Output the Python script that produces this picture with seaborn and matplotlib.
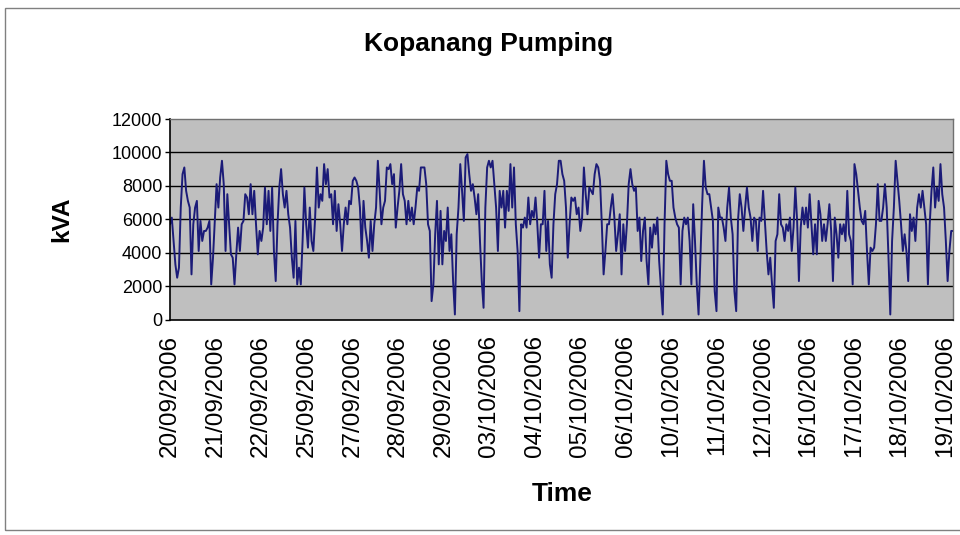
import numpy as np
import pandas as pd
import matplotlib
matplotlib.use("Agg")
import matplotlib.pyplot as plt
import seaborn as sns
from matplotlib.patches import Rectangle

# Apparent power readings (kVA), in time order
kva = [
    5700, 6100, 4700, 3300, 2500, 3100, 6700, 8700, 9100, 7700, 7100, 6700, 2700, 5700, 6700, 7100,
    4100, 5900, 4700, 5300, 5300, 5500, 5900, 2100, 3700, 5900, 8100, 6700, 8500, 9500, 8100, 4100,
    7500, 5700, 3900, 3700, 2100, 3900, 5500, 4100, 5700, 5900, 7500, 7300, 6300, 8100, 6300, 7700,
    5700, 3900, 5300, 4700, 5500, 7900, 5700, 7700, 5300, 7900, 4100, 2300, 5700, 7900, 9000, 7500,
    6700,
    7700, 6300, 5500, 3700, 2500, 5900, 2100, 3100, 2100, 4700, 7900, 5700, 4300, 6700, 4700, 4100,
    6100, 9100, 6700, 7500, 7100, 9300, 8100, 9000, 7300, 7500, 5700, 7700, 5300, 6900, 5700, 4100,
    5700, 6700, 5700, 7100, 6900, 8300, 8500, 8300, 7900, 6700, 4100, 7100, 5500, 4700, 3700, 5900,
    4100, 5700, 6700, 9500, 7700, 5700, 6700, 7100, 9100, 9000, 9300, 8100, 8700, 5500, 6700, 7700,
    9300, 7500, 7100, 5700, 7100, 5900,
    6700, 5700, 6700, 7900, 7700, 9100, 9100, 9100, 8100, 5700, 5300, 1100, 2100, 5100, 7100, 3300,
    6500, 3300, 5300, 4700, 6700, 4100, 5100, 2300, 300, 5100, 6700, 9300, 7700, 5900, 9700, 9900,
    8700, 7700, 8100, 7300, 6300, 7500, 4700, 2300, 700, 6700, 9100, 9500, 9100, 9500, 8100, 6700,
    4100, 7700, 6700, 7700, 5500, 7700, 6500, 9300, 6700, 9100, 5700, 4100, 500, 5700, 5500, 6100,
    5500, 7300, 5700, 6500, 6100,
    7300, 5700, 3700, 5700, 5700, 7700, 4100, 5900, 3300, 2500, 5700, 7500, 8100, 9500, 9500, 8700,
    8300, 6700, 3700, 5700, 7300, 7100, 7300, 6300, 6700, 5300, 6100, 9100, 7500, 6300, 7900, 7700,
    7500, 8700, 9300, 9100, 8300, 5700, 2700, 4100, 5700, 5700, 6700, 7500, 6100, 4100, 5100, 6300,
    2700, 5700, 4100, 5700, 8100, 9000, 8100, 7700, 7900, 5300, 6100, 3500, 5300, 6100, 3500, 2100,
    5500, 4300, 5700, 5100, 6100, 3500, 1900, 300, 5700, 9500, 8700, 8300,
    8300, 6700, 6100, 5700, 5500, 2100, 5300, 6100, 5700, 6100, 4700, 2100, 6900, 4700, 2100, 300,
    3700, 6900, 9500, 7900, 7500, 7500, 6700, 5900, 1700, 500, 6700, 6100, 6100, 5500, 4700, 6700,
    7900, 6100, 5100, 1700, 500, 5900, 7500, 6700, 5300, 6700, 7900, 6700, 6100, 4700, 6100, 5900,
    4100, 6100, 5900, 7700, 5900, 4100, 2700, 3700, 2100, 700, 4700, 5100, 7500, 5700, 5500, 4700,
    5700, 5300, 6100, 4100, 5500, 7900, 5900, 2300, 5500, 6700, 5700, 6700, 5500,
    7500, 5700, 3900, 5700, 3900, 7100, 6300, 4700, 5700, 4700, 5700, 6900, 5300, 2300, 6100, 5100,
    3700, 5700, 5100, 5700, 4700, 7700, 5100, 4700, 2100, 9300, 8700, 7700, 6700, 5900, 5700, 6500,
    4100, 2100, 4300, 4100, 4300, 5700, 8100, 5900, 5900, 6700, 8100, 6700, 3700, 300, 4700, 6700,
    9500, 8300, 7100, 5700, 4100, 5100, 4100, 2300, 6300, 5300, 6100, 4700, 6700, 7500, 6700, 7700,
    6700, 5700, 2100, 5700, 7700, 9100, 6700, 7900, 7100, 9300, 7500, 6700, 4700, 2300, 4100, 5300,
    5300,
]

# Category axis labels (one every label_step readings)
date_labels = [
    "20/09/2006", "21/09/2006", "22/09/2006", "25/09/2006", "27/09/2006", "28/09/2006",
    "29/09/2006", "03/10/2006", "04/10/2006", "05/10/2006", "06/10/2006", "10/10/2006",
    "11/10/2006", "12/10/2006", "16/10/2006", "17/10/2006", "18/10/2006", "19/10/2006",
]
y_ticks = [0, 2000, 4000, 6000, 8000, 10000, 12000]

df = pd.DataFrame({"idx": np.arange(len(kva)), "kVA": kva})

sns.set_theme(style="white")
plt.rcParams["font.family"] = ["Liberation Sans", "DejaVu Sans"]
plt.rcParams["text.color"] = "black"
plt.rcParams["xtick.color"] = "black"
plt.rcParams["ytick.color"] = "black"

W, H = 960, 535
fig = plt.figure(figsize=(W / 100, H / 100), dpi=100)
fig.patch.set_facecolor("white")

# chart frame
fig.add_artist(Rectangle((5 / W, 1 - 530 / H), 960 / W, 522 / H, transform=fig.transFigure,
                         fill=False, edgecolor="#808080", linewidth=1.0))

left, right, top, bottom = 170, 953, 119, 319.5
ax = fig.add_axes([left / W, 1 - bottom / H, (right - left) / W, (bottom - top) / H])
ax.set_facecolor("#bfbfbf")

sns.lineplot(data=df, x="idx", y="kVA", ax=ax, color="#1b1b78", linewidth=1.4)

n = len(kva)
ax.set_xlim(0, n - 1)
ax.set_ylim(0, 12000)
ax.set_yticks(y_ticks)
ax.set_yticklabels([str(v) for v in y_ticks])
for v in y_ticks[1:-1]:
    ax.axhline(v, color="black", linewidth=1.0, zorder=1)

label_step = (n - 1) * 45.6 / (right - left)
ax.set_xticks(np.arange(len(date_labels)) * label_step)
ax.set_xticklabels(date_labels, rotation=90)

ax.tick_params(axis="y", labelsize=13, length=3.5, width=1, color="black",
               labelcolor="black", direction="out", pad=2)
ax.tick_params(axis="x", labelsize=17.5, length=0, pad=11, labelcolor="black")
ax.tick_params(left=True, bottom=False)

for side in ["left", "bottom"]:
    ax.spines[side].set_color("black")
    ax.spines[side].set_linewidth(1.2)
for side in ["top", "right"]:
    ax.spines[side].set_color("#707070")
    ax.spines[side].set_linewidth(1.0)

ax.set_xlabel("")
ax.set_ylabel("")
fig.text(489 / W, 1 - 44 / H, "Kopanang Pumping", ha="center", va="center",
         fontsize=19, fontweight="bold", color="black")
fig.text(62 / W, 1 - 219 / H, "kVA", ha="center", va="center", rotation=90,
         fontsize=17.5, fontweight="bold", color="black")
fig.text(562 / W, 1 - 494 / H, "Time", ha="center", va="center",
         fontsize=19, fontweight="bold", color="black")

fig.savefig("out.png", dpi=100)
